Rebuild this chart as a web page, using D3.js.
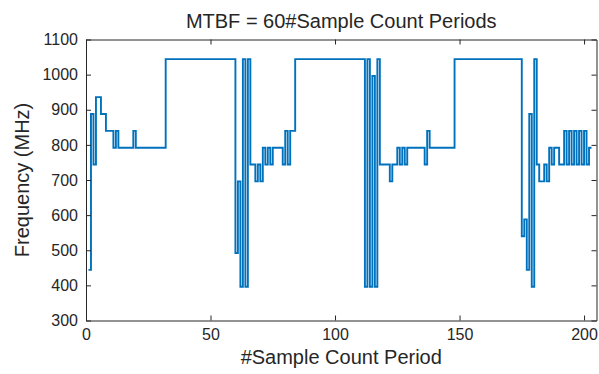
<!DOCTYPE html>
<html>
<head>
<meta charset="utf-8">
<title>MTBF = 60</title>
<script src="https://d3js.org/d3.v7.min.js"></script>
<style>
    body { margin: 0; background: #fff; }
    text { font-family: "Liberation Sans", Arial, sans-serif; fill: #262626; }
    .axis path, .axis line { stroke: #262626; }
</style>
</head>
<body>
<script>
    // sample index where each frequency level starts (stairs plot)
    var stepStart = [1, 2, 3, 4, 6, 8, 11, 12, 13, 19, 20, 32,
        60, 61, 62, 63, 64, 65, 66, 68, 69, 70, 71, 72, 73, 74, 75, 79, 80, 81, 82, 84,
        112, 113, 114, 115, 116, 117, 118, 122, 123, 125, 126, 127, 128, 129, 136, 137, 138, 148,
        175, 176, 177, 178, 179, 180, 181, 182, 184, 185, 186, 187, 188, 190, 192,
        193, 194, 195, 196, 197, 198, 199, 200, 201, 202, 203];
    var stepFreq = [444, 888, 744, 936, 888, 840, 792, 840, 792, 840, 792, 1044,
        492, 696, 396, 1044, 396, 1044, 744, 696, 744, 696, 792, 744, 792, 744, 792, 744, 840, 744, 840, 1044,
        396, 1044, 396, 996, 396, 1044, 744, 696, 744, 792, 744, 792, 744, 792, 744, 840, 792, 1044,
        540, 588, 444, 888, 396, 1044, 744, 696, 744, 696, 792, 744, 792, 744,
        840, 744, 840, 744, 840, 744, 840, 744, 840, 744, 792];
    var lastSample = 205;

    var xTicks = [0, 50, 100, 150, 200];
    var yTicks = [300, 400, 500, 600, 700, 800, 900, 1000, 1100];

    var width = 599, height = 374;
    var plotLeft = 86, plotRight = 596.5, plotTop = 39.5, plotBottom = 320.5;

    var svg = d3.select("body").append("svg")
        .attr("width", width)
        .attr("height", height);

    var x = d3.scaleLinear().domain([0, 205]).range([plotLeft, plotRight]);
    var y = d3.scaleLinear().domain([300, 1100]).range([plotBottom, plotTop]);

    var points = stepStart.map(function(s, i) { return [s, stepFreq[i]]; });
    points.push([lastSample, stepFreq[stepFreq.length - 1]]);

    var line = d3.line()
        .x(function(d) { return x(d[0]); })
        .y(function(d) { return y(d[1]); })
        .curve(d3.curveStepAfter);

    svg.append("path")
        .datum(points)
        .attr("fill", "none")
        .attr("stroke", "#0072BD")
        .attr("stroke-width", 1.9)
        .attr("d", line);

    // box with inward ticks on all four sides
    function styleAxis(g, labels) {
        g.attr("class", "axis");
        g.select(".domain").attr("stroke-width", 1);
        if (!labels) g.selectAll("text").remove();
        g.selectAll("text").style("font-size", "16px").attr("fill", "#262626");
    }

    svg.append("g")
        .attr("transform", "translate(0," + plotBottom + ")")
        .call(d3.axisBottom(x).tickValues(xTicks).tickSizeInner(-5).tickSizeOuter(0).tickPadding(8))
        .call(styleAxis, true);

    svg.append("g")
        .attr("transform", "translate(0," + plotTop + ")")
        .call(d3.axisTop(x).tickValues(xTicks).tickSizeInner(-5).tickSizeOuter(0))
        .call(styleAxis, false);

    svg.append("g")
        .attr("transform", "translate(" + plotLeft + ",0)")
        .call(d3.axisLeft(y).tickValues(yTicks).tickFormat(d3.format("d")).tickSizeInner(-5).tickSizeOuter(0).tickPadding(8))
        .call(styleAxis, true);

    svg.append("g")
        .attr("transform", "translate(" + plotRight + ",0)")
        .call(d3.axisRight(y).tickValues(yTicks).tickSizeInner(-5).tickSizeOuter(0))
        .call(styleAxis, false);

    svg.append("text")
        .attr("x", (plotLeft + plotRight) / 2)
        .attr("y", 28)
        .attr("text-anchor", "middle")
        .style("font-size", "20px")
        .text("MTBF = 60#Sample Count Periods");

    svg.append("text")
        .attr("x", (plotLeft + plotRight) / 2)
        .attr("y", 364)
        .attr("text-anchor", "middle")
        .style("font-size", "20px")
        .text("#Sample Count Period");

    svg.append("text")
        .attr("transform", "translate(29," + (plotTop + plotBottom) / 2 + ") rotate(-90)")
        .attr("text-anchor", "middle")
        .style("font-size", "20px")
        .text("Frequency (MHz)");
</script>
</body>
</html>
